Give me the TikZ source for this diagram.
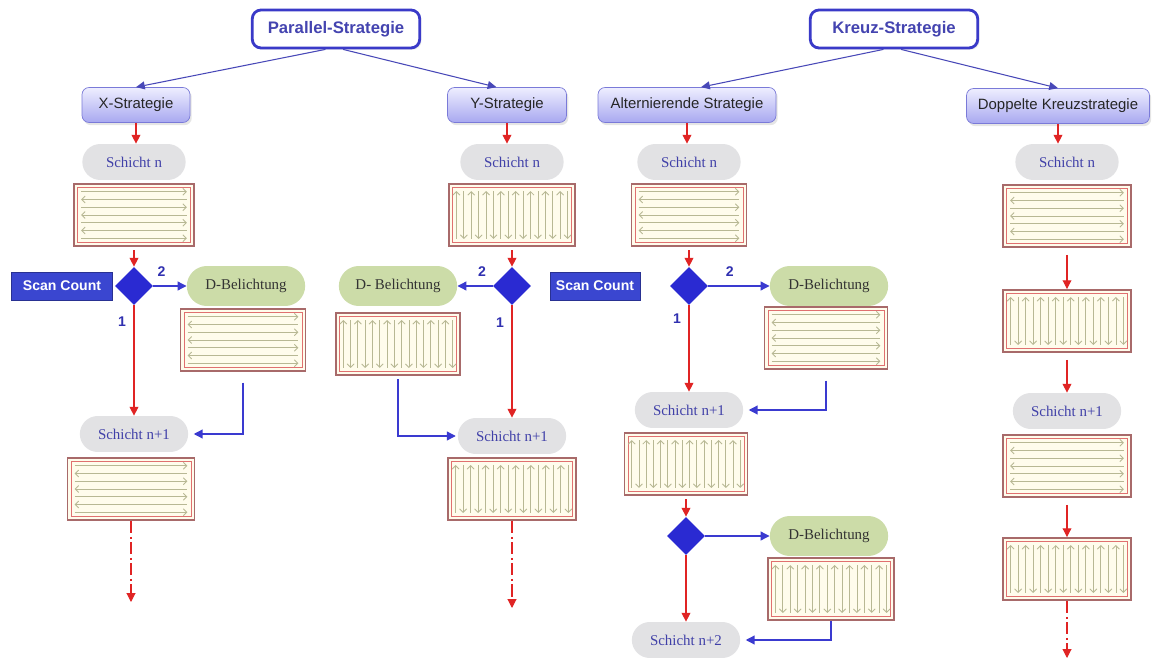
\documentclass[tikz,border=0pt]{standalone}
\usepackage{fontspec}
\setmainfont{Liberation Serif}
\setsansfont{Liberation Sans}
\usetikzlibrary{shapes.geometric, shapes.misc, arrows.meta, positioning, calc, shadows}

\definecolor{topedge}{HTML}{3A3AC8}
\definecolor{toptext}{HTML}{4444B0}
\definecolor{subedge}{HTML}{7A7AD8}
\definecolor{lavtop}{HTML}{EEEEFF}
\definecolor{lavbot}{HTML}{A8A8F0}
\definecolor{toparrow}{HTML}{4848B8}
\definecolor{pillgrey}{HTML}{E2E2E4}
\definecolor{layertext}{HTML}{4040A8}
\definecolor{pillgreen}{HTML}{CCDCA8}
\definecolor{countblue}{HTML}{3A46D0}
\definecolor{diablue}{HTML}{2A2AD2}
\definecolor{arrred}{HTML}{E02424}
\definecolor{arrblue}{HTML}{3A3AD0}
\definecolor{numblue}{HTML}{3030B0}
\definecolor{scanout}{HTML}{A86A6A}
\definecolor{scanin}{HTML}{E07070}
\definecolor{scanfill}{HTML}{FFFCEC}
\definecolor{scanline}{HTML}{B8B894}

\begin{document}
\begin{tikzpicture}[
    x=0.02cm, y=-0.02cm,
    topbox/.style={
      draw=topedge, line width=1.6pt, rounded corners=5pt, fill=white,
      minimum width=3.35cm, minimum height=0.76cm,
      font=\sffamily\bfseries\fontsize{9.5}{11}\selectfont, text=toptext,
      drop shadow={opacity=0.15, shadow xshift=1pt, shadow yshift=-1pt}
    },
    subbox/.style={
      draw=subedge, rounded corners=4pt, top color=lavtop, bottom color=lavbot,
      minimum height=0.7cm, inner sep=2pt,
      font=\sffamily\fontsize{8.5}{10}\selectfont, text=black!85,
      drop shadow={opacity=0.2, shadow xshift=1pt, shadow yshift=-1.5pt}
    },
    layer/.style={
      rounded rectangle, fill=pillgrey, minimum width=2.3cm, minimum height=0.72cm,
      font=\fontsize{8.5}{10}\selectfont, text=layertext
    },
    dexp/.style={
      rounded rectangle, fill=pillgreen, minimum width=2.6cm, minimum height=0.8cm,
      font=\fontsize{8.5}{10}\selectfont, text=black!80
    },
    count/.style={
      fill=countblue, draw=countblue!70!black, text=white,
      font=\sffamily\bfseries\fontsize{8}{10}\selectfont,
      minimum width=2.02cm, minimum height=0.56cm
    },
    decide/.style={diamond, aspect=1, fill=diablue, inner sep=0pt, minimum size=0.76cm},
    scanbase/.style={
      draw=scanout, line width=1.1pt, fill=scanfill, inner sep=0pt,
      minimum width=2.45cm, minimum height=1.24cm
    },
    hscan/.style={scanbase, path picture={
        \draw[scanin, line width=0.5pt]
          ([shift={(2pt,-2pt)}]path picture bounding box.north west) rectangle
          ([shift={(-2pt,2pt)}]path picture bounding box.south east);
        \foreach \k in {1,...,7}{
          \ifodd\k
            \draw[scanline, line width=0.5pt, -{Straight Barb[length=2pt,width=4pt]}]
              ($(path picture bounding box.north west)!{\k/8}!(path picture bounding box.south west)+(4pt,0)$) --
              ($(path picture bounding box.north east)!{\k/8}!(path picture bounding box.south east)+(-4pt,0)$);
          \else
            \draw[scanline, line width=0.5pt, {Straight Barb[length=2pt,width=4pt]}-]
              ($(path picture bounding box.north west)!{\k/8}!(path picture bounding box.south west)+(4pt,0)$) --
              ($(path picture bounding box.north east)!{\k/8}!(path picture bounding box.south east)+(-4pt,0)$);
          \fi
        }
      }},
    vscan/.style={scanbase, path picture={
        \draw[scanin, line width=0.5pt]
          ([shift={(2pt,-2pt)}]path picture bounding box.north west) rectangle
          ([shift={(-2pt,2pt)}]path picture bounding box.south east);
        \foreach \k in {1,...,16}{
          \ifodd\k
            \draw[scanline, line width=0.5pt, -{Straight Barb[length=2pt,width=4pt]}]
              ($(path picture bounding box.south west)!{\k/17}!(path picture bounding box.south east)+(0,4pt)$) --
              ($(path picture bounding box.north west)!{\k/17}!(path picture bounding box.north east)+(0,-4pt)$);
          \else
            \draw[scanline, line width=0.5pt, {Straight Barb[length=2pt,width=4pt]}-]
              ($(path picture bounding box.south west)!{\k/17}!(path picture bounding box.south east)+(0,4pt)$) --
              ($(path picture bounding box.north west)!{\k/17}!(path picture bounding box.north east)+(0,-4pt)$);
          \fi
        }
      }},
    toparr/.style={-{Triangle[length=5pt,width=4.5pt]}, draw=toparrow, line width=0.6pt},
    redarr/.style={-{Triangle[length=5pt,width=5pt]}, draw=arrred, line width=0.6pt},
    bluearr/.style={-{Triangle[length=5pt,width=5pt]}, draw=arrblue, line width=0.7pt},
    dotarr/.style={redarr, dash pattern=on 7pt off 2pt on 1pt off 2pt},
    num/.style={font=\sffamily\bfseries\fontsize{8}{10}\selectfont, text=numblue}
  ]
  \useasboundingbox[fill=white] (0,0) rectangle (1157,662);

  % strategies
  \node[topbox] (par)   at (336,29)  {Parallel-Strategie};
  \node[topbox] (kreuz) at (894,29)  {Kreuz-Strategie};
  \node[subbox, minimum width=2.16cm] (xstr) at (136,105) {X-Strategie};
  \node[subbox, minimum width=2.38cm] (ystr) at (507,105) {Y-Strategie};
  \node[subbox, minimum width=3.56cm] (astr) at (687,105) {Alternierende Strategie};
  \node[subbox, minimum width=3.66cm] (dstr) at (1058,106) {Doppelte Kreuzstrategie};
  \draw[toparr] ([xshift=-6pt]par.south) -- (xstr.north);
  \draw[toparr] ([xshift=4pt]par.south) -- ([xshift=-6pt]ystr.north);
  \draw[toparr] ([xshift=-6pt]kreuz.south) -- ([xshift=8pt]astr.north);
  \draw[toparr] ([xshift=4pt]kreuz.south) -- (dstr.north);

  % X-Strategie
  \node[layer] (xn)   at (134,162) {Schicht n};
  \node[hscan, minimum width=2.4cm] (xs1) at (134,215) {};
  \node[decide] (xdia) at (134,286) {};
  \node[count]  (xcnt) at (62,286)  {Scan Count};
  \node[dexp]   (xdb)  at (246,286) {D-Belichtung};
  \node[hscan, minimum width=2.5cm] (xds) at (243,340) {};
  \node[layer, minimum width=2.4cm] (xn1) at (134,434) {Schicht n+1};
  \node[hscan, minimum width=2.54cm] (xs2) at (131,489) {};
  \coordinate (xend) at (131,602);
  \draw[redarr] (xstr.south) -- (xstr.south |- xn.north);
  \draw[redarr, shorten <=2pt] (xs1.south) -- (xdia.north);
  \draw[bluearr] (xdia.east) -- node[num, above=2pt, pos=0.25] {2} (xdb.west);
  \draw[redarr] (xdia.south) -- node[num, left=1pt, pos=0.15] {1} (xn1.north);
  \draw[bluearr, shorten <=6pt, shorten >=3pt] (xds.south) |- (xn1.east);
  \draw[dotarr] (xs2.south) -- (xend);

  % Y-Strategie
  \node[layer] (yn)   at (512,162) {Schicht n};
  \node[vscan, minimum width=2.52cm] (ys1) at (512,215) {};
  \node[decide] (ydia) at (512,286) {};
  \node[dexp]   (ydb)  at (398,286) {D- Belichtung};
  \node[vscan, minimum width=2.48cm] (yds) at (398,344) {};
  \node[layer, minimum width=2.4cm] (yn1) at (512,436) {Schicht n+1};
  \node[vscan, minimum width=2.56cm] (ys2) at (512,489) {};
  \coordinate (yend) at (512,608);
  \draw[redarr] (ystr.south) -- (ystr.south |- yn.north);
  \draw[redarr, shorten <=2pt] (ys1.south) -- (ydia.north);
  \draw[bluearr] (ydia.west) -- node[num, above=2pt, pos=0.3] {2} (ydb.east);
  \draw[redarr] (ydia.south) -- node[num, left=1pt, pos=0.15] {1} (yn1.north);
  \draw[bluearr, shorten <=2pt, shorten >=1pt] (yds.south) |- (yn1.west);
  \draw[dotarr] (ys2.south) -- (yend);

  % Alternierende Strategie
  \node[layer] (an)   at (689,162) {Schicht n};
  \node[hscan, minimum width=2.3cm] (as1) at (689,215) {};
  \node[decide] (adia) at (689,286) {};
  \node[count, minimum width=1.8cm] (acnt) at (595,286) {Scan Count};
  \node[dexp]   (adb)  at (829,286) {D-Belichtung};
  \node[hscan, minimum width=2.46cm] (ads) at (826,338) {};
  \node[layer, minimum width=2.4cm] (an1) at (689,410) {Schicht n+1};
  \node[vscan, minimum width=2.46cm] (as2) at (686,464) {};
  \node[decide] (adia2) at (686,536) {};
  \node[dexp]   (adb2)  at (829,536) {D-Belichtung};
  \node[vscan, minimum width=2.52cm] (ads2) at (831,589) {};
  \node[layer, minimum width=2.4cm] (an2) at (686,640) {Schicht n+2};
  \draw[redarr] (astr.south) -- (astr.south |- an.north);
  \draw[redarr, shorten <=2pt] (as1.south) -- (adia.north);
  \draw[bluearr] (adia.east) -- node[num, above=2pt, pos=0.35] {2} (adb.west);
  \draw[redarr] (adia.south) -- node[num, left=1pt, pos=0.15] {1} (an1.north);
  \draw[bluearr, shorten <=6pt, shorten >=3pt] (ads.south) |- (an1.east);
  \draw[redarr, shorten <=2pt] (as2.south) -- (adia2.north);
  \draw[bluearr] (adia2.east) -- (adb2.west);
  \draw[redarr] (adia2.south) -- (an2.north);
  \draw[bluearr, shorten >=3pt] (ads2.south) |- (an2.east);

  % Doppelte Kreuzstrategie
  \node[layer] (dn)   at (1067,162) {Schicht n};
  \node[hscan, minimum width=2.56cm] (ds1) at (1067,216) {};
  \node[vscan, minimum width=2.56cm] (ds2) at (1067,321) {};
  \node[layer, minimum width=2.4cm] (dn1) at (1067,411) {Schicht n+1};
  \node[hscan, minimum width=2.56cm] (ds3) at (1067,466) {};
  \node[vscan, minimum width=2.56cm] (ds4) at (1067,569) {};
  \coordinate (dend) at (1067,658);
  \draw[redarr] (dstr.south) -- (dstr.south |- dn.north);
  \draw[redarr, shorten <=4pt] (ds1.south) -- (ds2.north);
  \draw[redarr, shorten <=4pt] (ds2.south) -- (dn1.north);
  \draw[redarr, shorten <=4pt] (ds3.south) -- (ds4.north);
  \draw[dotarr] (ds4.south) -- (dend);
\end{tikzpicture}
\end{document}
